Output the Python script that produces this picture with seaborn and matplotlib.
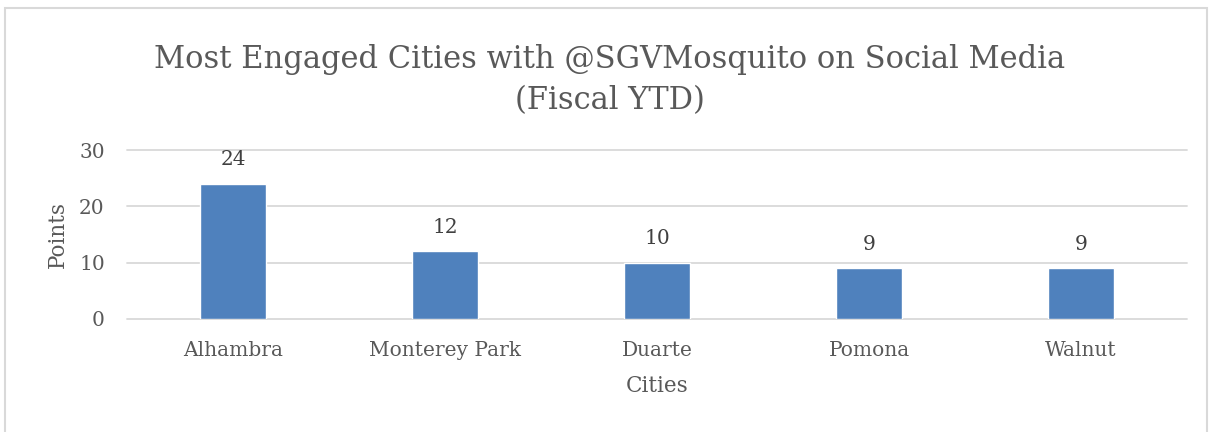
import matplotlib
matplotlib.use("Agg")
import matplotlib.pyplot as plt
import seaborn as sns
import pandas as pd
from matplotlib.patches import Rectangle

cities = ["Alhambra", "Monterey Park", "Duarte", "Pomona", "Walnut"]
points = [24, 12, 10, 9, 9]
yticks = [0, 10, 20, 30]
title = "Most Engaged Cities with @SGVMosquito on Social Media\n(Fiscal YTD)"

sns.set_theme(style="white")
plt.rcParams['font.family'] = ['DejaVu Serif']

df = pd.DataFrame({"City": cities, "Points": points})

fig = plt.figure(figsize=(12.12, 4.32), dpi=100)
ax = fig.add_axes([127/1212, 1-319/432, 1060/1212, 169/432])

sns.barplot(data=df, x="City", y="Points", color="#4F81BD", width=0.316,
            saturation=1, ax=ax, zorder=3)

ax.set_xlim(-0.5, len(cities)-0.5)
ax.set_ylim(0, 30)
ax.set_yticks(yticks)
ax.yaxis.grid(True, color="#D9D9D9", linewidth=1.3, zorder=0)
for gl in ax.get_ygridlines():
    gl.set_clip_on(False)
ax.set_axisbelow(True)
for s in ax.spines.values():
    s.set_visible(False)
ax.tick_params(axis="both", length=0, labelsize=14.5, colors="#595959")
ax.tick_params(axis="y", pad=16)
ax.tick_params(axis="x", pad=16)

for i, v in enumerate(points):
    ax.text(i, v + 4.3, str(v), ha="center", va="center", fontsize=14.5, color="#404040")

ax.set_xlabel("Cities", fontsize=15.5, color="#595959", labelpad=11)
ax.set_ylabel("Points", fontsize=15.5, color="#595959", labelpad=7)

fig.text(610/1212, 1-80/432, title, ha="center", va="center", fontsize=22,
         color="#595959", linespacing=1.45)

fig.patches.append(Rectangle((5/1212, -0.05), 1202/1212, 1.05 - 8/432,
                             transform=fig.transFigure, fill=False,
                             edgecolor="#D9D9D9", linewidth=1.5))

fig.savefig("out.png", dpi=100, facecolor="white")
